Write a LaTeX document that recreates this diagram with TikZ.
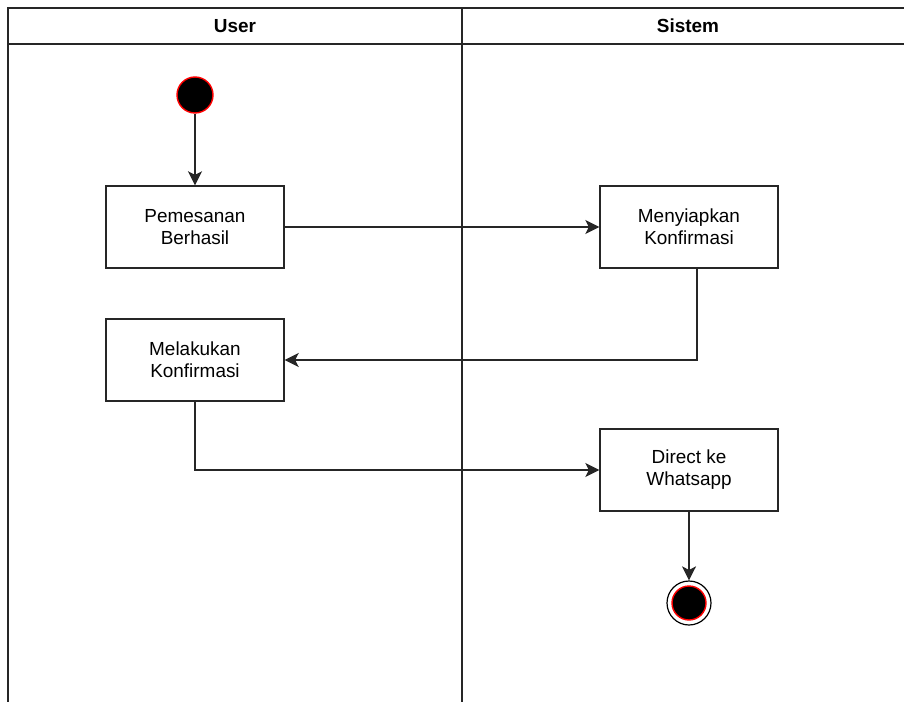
\documentclass[tikz,border=0pt]{standalone}
\usepackage{fontspec}
\setmainfont{Liberation Sans}
\usetikzlibrary{arrows.meta}
\begin{document}
\begin{tikzpicture}[x=1bp,y=-1bp,
  lane/.style={draw=black!85,line width=1.4bp},
  head/.style={font=\bfseries\fontsize{19}{22}\selectfont},
  act/.style={draw=black!85,line width=1.4bp,minimum width=178bp,minimum height=82bp,
    align=center,inner sep=0pt,font=\fontsize{19}{22}\selectfont},
  startnode/.style={circle,draw=red,fill=black,line width=1.4bp,minimum size=36bp,inner sep=0pt},
  endouter/.style={circle,draw=black,fill=white,line width=1.2bp,minimum size=44bp,inner sep=0pt},
  endinner/.style={circle,draw=red,fill=black,line width=1.4bp,minimum size=34bp,inner sep=0pt},
  flow/.style={draw=black!85,line width=1.4bp,-{Stealth[length=14bp,width=14bp,inset=3.5bp]}}]
\useasboundingbox (0,0) rectangle (904,702);
\fill[white] (0,0) rectangle (904,702);

% swimlane frame
\draw[lane] (8,702) -- (8,8) -- (914,8);
\draw[lane] (8,44) -- (914,44);
\draw[lane] (462,8) -- (462,702);
\node[head] (hUser) at (235,26) {User};
\node[head] (hSistem) at (688,26) {Sistem};

% activities
\node[startnode] (st) at (195,95) {};
\node[act] (b1) at (195,227) {Pemesanan\\Berhasil};
\node[act] (b2) at (689,227) {Menyiapkan\\Konfirmasi};
\node[act] (b3) at (195,360) {Melakukan\\Konfirmasi};
\node[act] (b4) at (689,470) {Direct ke\\Whatsapp};
\node[endouter] (en) at (689,603) {};
\node[endinner] (eni) at (en) {};

% control flow
\draw[flow] (st) -- (b1);
\draw[flow] (b1) -- (b2);
\draw[flow] ([xshift=8bp]b2.south) |- (b3.east);
\draw[flow] (b3.south) |- (b4.west);
\draw[flow] (b4.south) -- (en.north);
\end{tikzpicture}
\end{document}
